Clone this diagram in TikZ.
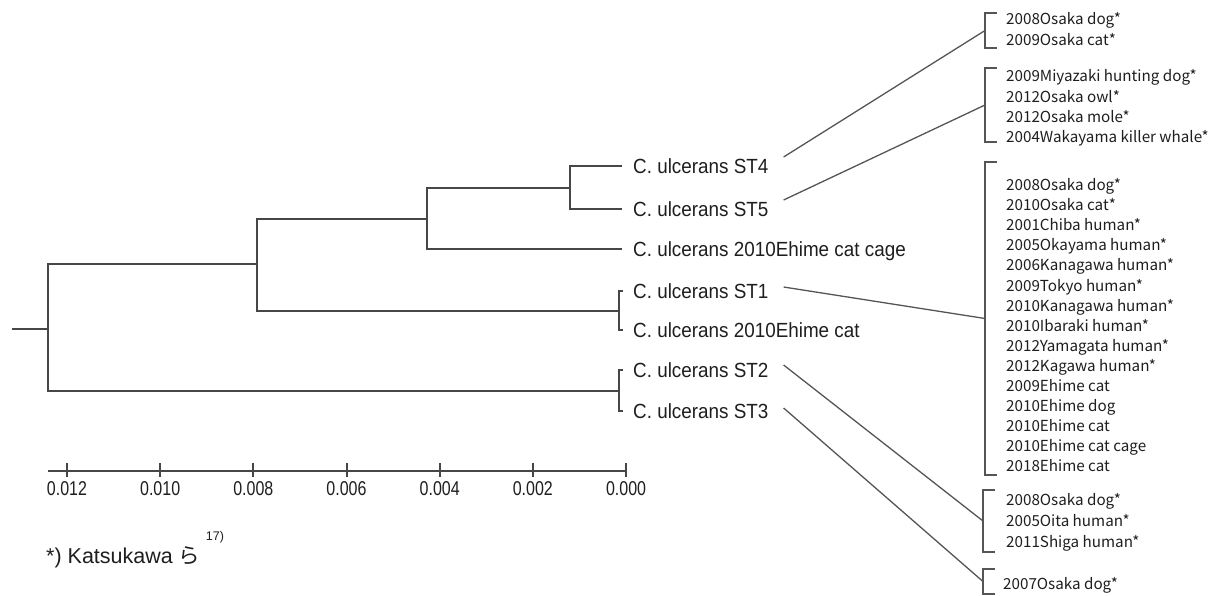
\documentclass[tikz,border=0pt]{standalone}
\usepackage{fontspec}
\setmainfont{Liberation Sans}
\newfontfamily\treefont[FakeStretch=0.92]{Liberation Sans}
\newfontfamily\axisfont[FakeStretch=0.8]{Liberation Sans}
\newfontfamily\jpfont{Noto Sans CJK JP}
\newfontfamily\listfont{Noto Sans CJK JP}
\definecolor{treegray}{HTML}{474747}
\definecolor{linegray}{HTML}{555555}
\definecolor{textdark}{HTML}{1E1E1E}
\tikzset{
  tree/.style={draw=treegray, line width=2.2pt, line join=miter},
  axisline/.style={draw=treegray, line width=2pt},
  conn/.style={draw=linegray, line width=1.3pt},
  brk/.style={draw=linegray, line width=1.4pt},
  leaf/.style={anchor=west, inner sep=0pt, text=textdark, font=\treefont\fontsize{20.5}{20.5}\selectfont, text height=14.7pt, text depth=0pt},
  axlab/.style={inner sep=0pt, text=textdark, font=\axisfont\fontsize{20}{20}\selectfont, text height=14.3pt, text depth=0pt},
  item/.style={anchor=west, inner sep=0pt, text=textdark, font=\listfont\fontsize{15.2}{15.2}\selectfont, text height=11.1pt, text depth=0pt},
  note/.style={anchor=base west, inner sep=0pt, text=textdark, font=\fontsize{21.5}{21.5}\selectfont}
}
\begin{document}
\begin{tikzpicture}[x=1pt,y=-1pt]
\useasboundingbox (0,0) rectangle (1214,595);
% internal nodes
\coordinate (r0) at (12,329);
\coordinate (n0) at (48,329);
\coordinate (n1) at (257,264);
\coordinate (n2) at (427,219);
\coordinate (n3) at (570,188);
\coordinate (n4) at (619,311);
\coordinate (n5) at (619,391);
% leaves
\node[leaf] (st4) at (633,166) {C. ulcerans ST4};
\node[leaf] (st5) at (633,209) {C. ulcerans ST5};
\node[leaf] (cage) at (633,249) {C. ulcerans 2010Ehime cat cage};
\node[leaf] (st1) at (633,291) {C. ulcerans ST1};
\node[leaf] (ehc) at (633,330) {C. ulcerans 2010Ehime cat};
\node[leaf] (st2) at (633,370) {C. ulcerans ST2};
\node[leaf] (st3) at (633,411) {C. ulcerans ST3};
% tree edges
\draw[tree] (r0) -- (n0);
\draw[tree] (n1) -- (n1 -| n0) -- (n5 -| n0) -- (n5);
\draw[tree] (n2) -- (n2 -| n1) -- (n4 -| n1) -- (n4);
\draw[tree] (n3) -- (n3 -| n2) -- (cage.west -| n2) -- ([xshift=-11pt]cage.west);
\draw[tree] ([xshift=-11pt]st4.west) -- (st4.west -| n3) -- (st5.west -| n3) -- ([xshift=-11pt]st5.west);
\draw[tree] ([xshift=-10pt]st1.west) -- (st1.west -| n4) -- (ehc.west -| n4) -- ([xshift=-10pt]ehc.west);
\draw[tree] ([xshift=-10pt]st2.west) -- (st2.west -| n5) -- (st3.west -| n5) -- ([xshift=-10pt]st3.west);
% scale axis
\draw[axisline] (48,471) -- (626,471);
\foreach \i/\l in {0/0.012,1/0.010,2/0.008,3/0.006,4/0.004,5/0.002,6/0.000}{
  \draw[axisline] ({67+93.17*\i},463) -- ({67+93.17*\i},477);
  \node[axlab] (ax\i) at ({67+93.17*\i},488) {\l};
}
% footnote
\node[note] (note) at (46,563) {*) Katsukawa {\jpfont ら}};
\node[inner sep=0pt, text=textdark, font=\fontsize{12.5}{12.5}\selectfont] (ref) at (215,537) {17)};
% brackets
\draw[brk] (997,13) -- (985,13) -- (985,48) -- (997,48);
\coordinate (b1) at (985,30.5);
\draw[brk] (997,68) -- (985,68) -- (985,142) -- (997,142);
\coordinate (b2) at (985,105);
\draw[brk] (997,162) -- (985,162) -- (985,475) -- (997,475);
\coordinate (b3) at (985,318.5);
\draw[brk] (995,490) -- (983,490) -- (983,552) -- (995,552);
\coordinate (b4) at (983,521);
\draw[brk] (995,569) -- (983,569) -- (983,594) -- (995,594);
\coordinate (b5) at (983,581.5);
% lists
\node[item] (a1) at (1006,19) {2008Osaka dog*};
\node[item] (a2) at (1006,40) {2009Osaka cat*};
\node[item] (c1) at (1006,76) {2009Miyazaki hunting dog*};
\node[item] (c2) at (1006,97) {2012Osaka owl*};
\node[item] (c3) at (1006,117) {2012Osaka mole*};
\node[item] (c4) at (1006,137) {2004Wakayama killer whale*};
\foreach \t [count=\k from 0] in {2008Osaka dog*,2010Osaka cat*,2001Chiba human*,2005Okayama human*,2006Kanagawa human*,2009Tokyo human*,2010Kanagawa human*,2010Ibaraki human*,2012Yamagata human*,2012Kagawa human*,2009Ehime cat,2010Ehime dog,2010Ehime cat,2010Ehime cat cage,2018Ehime cat}{
  \node[item] (d\k) at (1006,{185+20.1*\k}) {\t};
}
\node[item] (e1) at (1006,500) {2008Osaka dog*};
\node[item] (e2) at (1006,521) {2005Oita human*};
\node[item] (e3) at (1006,542) {2011Shiga human*};
\node[item] (f1) at (1003,584) {2007Osaka dog*};
% connectors
\draw[conn] ([shift={(15pt,9pt)}]st4.east) -- (b1);
\draw[conn] ([shift={(15pt,9pt)}]st5.east) -- (b2);
\draw[conn] ([shift={(15pt,4pt)}]st1.east) -- (b3);
\draw[conn] ([shift={(15pt,5pt)}]st2.east) -- (b4);
\draw[conn] ([shift={(15pt,3pt)}]st3.east) -- (b5);
\end{tikzpicture}
\end{document}
